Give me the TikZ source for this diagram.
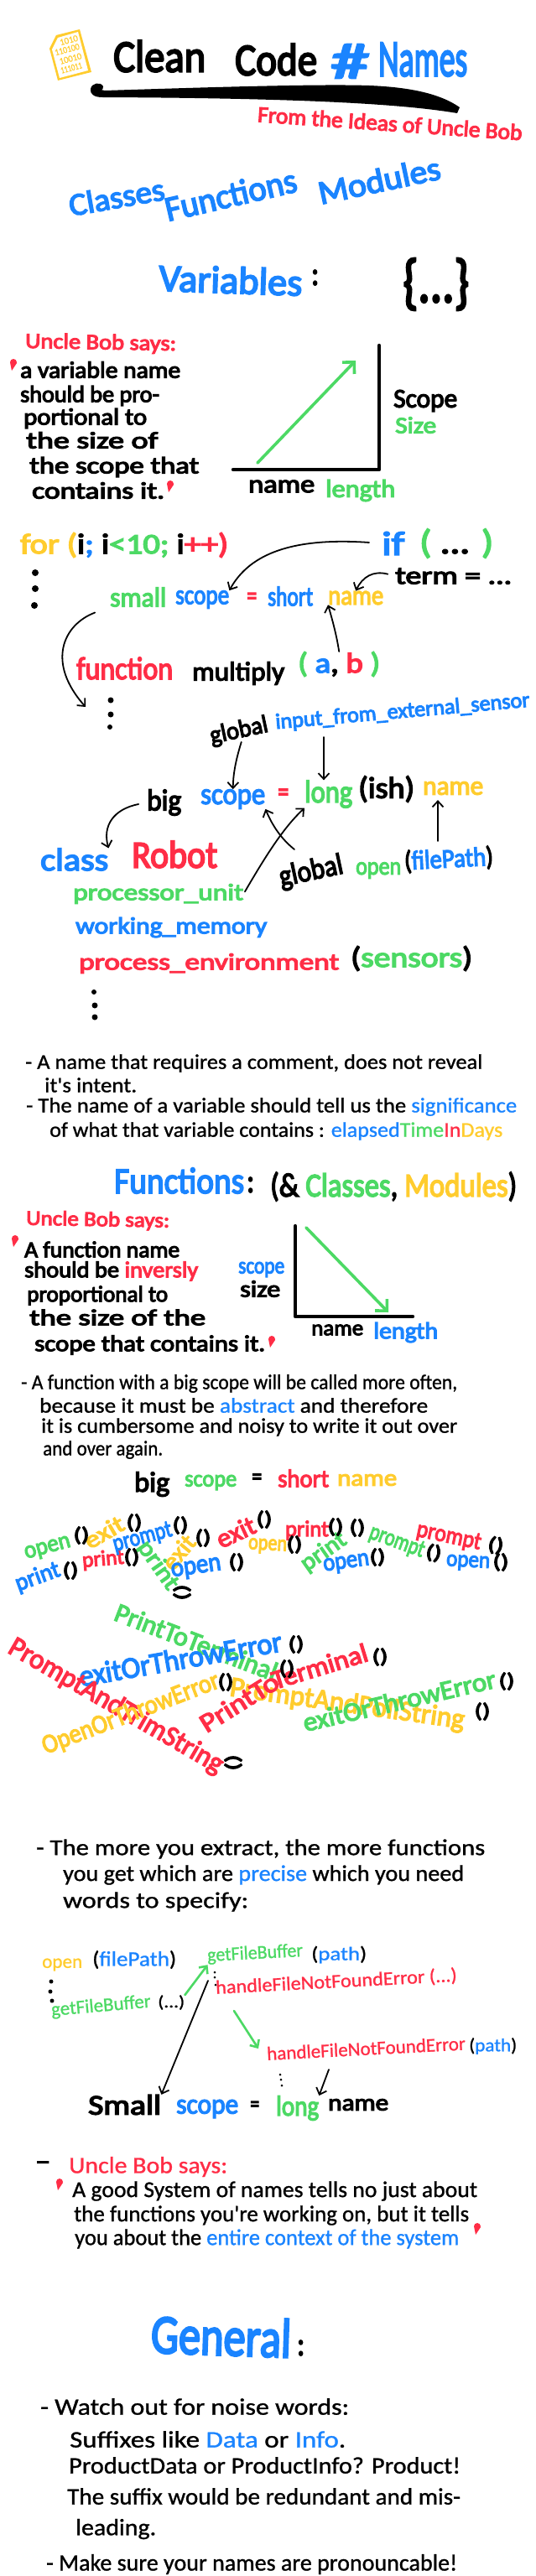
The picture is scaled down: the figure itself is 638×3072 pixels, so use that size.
\documentclass[tikz,border=0pt]{standalone}
\usepackage{graphicx}
\usepackage{fontspec}
\usetikzlibrary{arrows.meta, calc}
\newfontfamily\marker[FakeBold=4]{Carlito}
\newfontfamily\pen[FakeBold=1]{Carlito}
\definecolor{inkblue}{HTML}{1A84FF}
\definecolor{inkred}{HTML}{FF2D46}
\definecolor{inkgreen}{HTML}{4CD964}
\definecolor{inkyellow}{HTML}{FFCC2E}
\newcommand{\bl}[1]{\textcolor{inkblue}{#1}}
\newcommand{\rd}[1]{\textcolor{inkred}{#1}}
\newcommand{\gr}[1]{\textcolor{inkgreen}{#1}}
\newcommand{\yl}[1]{\textcolor{inkyellow}{#1}}
\newcommand{\wide}[2]{\resizebox{#1pt}{\height}{#2}}

\begin{document}
\begin{tikzpicture}[
  x=1pt, y=-1pt,
  hand/.style   = {inner sep=0pt, anchor=west, font=\marker\fontsize{#1}{#1}\selectfont},
  hand/.default = 28,
  thin/.style   = {inner sep=0pt, anchor=west, font=\pen\fontsize{#1}{#1}\selectfont},
  thin/.default = 25,
  word/.style   = {hand=#1, anchor=center},
  word/.default = 28,
  arr/.style    = {-{Straight Barb[length=7pt, width=13pt]}, line width=1.8pt, line cap=round},
  bigarr/.style = {-{Straight Barb[length=10pt, width=20pt]}, line width=3.6pt, line cap=round},
  axis/.style   = {line width=4.4pt, line cap=round, line join=round},
]
  \useasboundingbox (0,0) rectangle (638,3072);
  \fill[white] (0,0) rectangle (638,3072);

  % title
  \fill[inkyellow] (59,58) -- (67,42) -- (95,35) -- (109,86) -- (69,96) -- cycle;
  \fill[white] (62,59) -- (69,45) -- (93,38) -- (105,84) -- (71,93) -- cycle;
  \foreach \px/\py/\len/\word [count=\i] in {82/48/22/1010, 80/59/30/110100, 84/70/27/10010, 85/81/26/111011}
    \node[thin=11, anchor=center, rotate=15, text=inkyellow] (bits\i) at (\px,\py) {\wide{\len}{\word}};
  \node[hand=54] (clean) at (135,67) {\wide{110}{Clean}};
  \node[hand=54] (code)  at (280,71) {\wide{98}{Code}};
  \node[hand=60, text=inkblue] (hash)  at (394,73) {\wide{46}{\#}};
  \node[hand=62, text=inkblue] (names) at (451,71) {\wide{106}{Names}};
  \fill (125,108) .. controls (250,104) and (380,100) .. (440,102) .. controls (490,104) and (525,112) .. (548,128)
        -- (545,135) .. controls (480,124) and (360,117) .. (122,116) .. controls (112,116) and (107,112) .. (108,106)
        .. controls (109,99) and (120,97) .. (123,103) .. controls (124,108) and (117,110) .. (115,106) -- cycle;
  \node[word=27, rotate=-4, text=inkred] (ideas) at (465,147) {\wide{316}{From the Ideas of Uncle Bob}};

  \node[word=38, rotate=10, text=inkblue] (classes)   at (139,235) {\wide{115}{Classes}};
  \node[word=42, rotate=13, text=inkblue] (functions) at (275,232) {\wide{160}{Functions}};
  \node[word=40, rotate=12, text=inkblue] (modules)   at (452,215) {\wide{148}{Modules}};
  \node[word=46, rotate=-2, text=inkblue] (variables) at (275,334) {\wide{171}{Variables}};
  \node[hand=40] (varcolon) at (371,331) {\wide{9}{:}};
  \node[word=72] (block) at (520,339) {\wide{79}{\{...\}}};

  % variable rule
  \node[hand=26, rotate=-1, text=inkred] (says) at (30,408) {\wide{180}{Uncle Bob says:}};
  \node[hand] (v1) at (24,441) {\wide{191}{a variable name}};
  \node[hand] (v2) at (24,472) {\wide{166}{should be pro-}};
  \node[hand] (v3) at (28,499) {\wide{147}{portional to}};
  \node[hand] (v4) at (31,525) {\wide{157}{the size of}};
  \node[hand] (v5) at (35,557) {\wide{202}{the scope that}};
  \node[hand] (v6) at (38,585) {\wide{158}{contains it.}};
  \foreach \px/\py in {16/435, 203/580, 18/1480, 324/1600, 71/2605, 569/2658}
    \fill[inkred] (\px,\py-3) circle (4) (\px-4,\py-3) -- (\px+4,\py-2) -- (\px-2,\py+7) -- cycle;

  \coordinate (vorigin) at (452,560);
  \draw[axis] (452,412) -- (vorigin) -- (278,560);
  \coordinate (vrisefoot) at (307,552);
  \coordinate (vrisetop)  at (424,430);
  \draw[bigarr, inkgreen] (vrisefoot) -- (vrisetop);
  \node[hand=32] (vscope) at (469,478) {\wide{76}{Scope}};
  \node[hand=28, text=inkgreen] (vsize) at (471,507) {\wide{49}{Size}};
  \node[hand=30] (vname) at (296,580) {\wide{79}{name}};
  \node[hand=30, text=inkgreen] (vlength) at (388,585) {\wide{83}{length}};

  % small scope
  \node[hand=34] (forloop) at (24,650) {\wide{248}{\yl{for (}i\bl{;} i\gr{<10;} i\rd{++)}}};
  \node[hand=40, text=inkblue] (ifword) at (455,648) {\wide{27}{if}};
  \node[hand=40] (ifargs) at (500,648) {\wide{88}{\gr{(} ... \gr{)}}};
  \node[hand=30] (term) at (471,687) {\wide{139}{term = ...}};
  \node[hand=33, text=inkgreen]  (smallA) at (131,712) {\wide{67}{small}};
  \node[hand=33, text=inkblue]   (scopeA) at (209,715) {\wide{64}{scope}};
  \node[hand=33, text=inkred]    (eqA)    at (294,714) {\wide{12}{=}};
  \node[hand=33, text=inkblue]   (shortA) at (319,711) {\wide{54}{short}};
  \node[hand=33, text=inkyellow] (nameA)  at (391,713) {\wide{66}{name}};
  \node[hand=38, text=inkred] (func) at (91,797) {\wide{115}{function}};
  \node[hand=32] (mult) at (229,803) {\wide{110}{multiply}};
  \node[hand=34] (multargs) at (355,792) {\wide{98}{\gr{(} \bl{a}, \rd{b} \gr{)}}};

  \foreach \px/\py/\rad in {42/683/4, 42/702/4, 41/722/4, 132/835/3.5, 132/852/3.5, 131/867/3, 112/1183/3, 113/1199/3.5, 113/1213/3.5,
      61/2363/2.5, 60/2375/2.5, 62/2386/2.5, 256/2352/1.5, 256/2358/1.5, 257/2367/1.5, 334/2474/1.5, 335/2480/1.5, 336/2487/1.5}
    \fill (\px,\py) circle (\rad);

  \draw[arr, shorten <=15pt] (ifword.west) .. controls (340,640) and (295,665) .. (scopeA.north east);
  \draw[arr, shorten <=9pt] (term.west) .. controls (445,680) and (432,688) .. (nameA.north);
  \draw[arr] (multargs.north) .. controls (402,762) and (398,745) .. (nameA.south west);
  \coordinate (fdots) at (102,843);
  \draw[arr, shorten <=19pt] (smallA.south west) .. controls (75,745) and (55,790) .. (fdots);

  % big scope
  \node[word=30, rotate=12] (globA) at (285,872) {\wide{70}{global}};
  \node[word=26, rotate=5, text=inkblue] (inp) at (480,849) {\wide{304}{input\_from\_external\_sensor}};
  \node[hand=36] (bigB) at (175,957) {\wide{41}{big}};
  \node[hand=36, text=inkblue] (scopeB) at (239,953) {\wide{77}{scope}};
  \node[hand=34, text=inkred]  (eqB)    at (331,948) {\wide{13}{=}};
  \node[hand=38, text=inkgreen] (longB) at (363,947) {\wide{57}{long}};
  \node[hand=36] (ishB) at (427,941) {\wide{67}{(ish)}};
  \node[hand=32, text=inkyellow] (nameB) at (504,940) {\wide{72}{name}};
  \node[hand=38, text=inkblue] (classA) at (48,1025) {\wide{81}{class}};
  \node[hand=46, text=inkred]  (robot)  at (157,1019) {\wide{102}{Robot}};
  \node[hand=28, text=inkgreen] (proc)  at (87,1066)  {\wide{203}{processor\_unit}};
  \node[hand=28, text=inkblue]  (work)  at (90,1106)  {\wide{228}{working\_memory}};
  \node[hand=28, text=inkred]   (envir) at (94,1149)  {\wide{310}{process\_environment}};
  \node[hand=34] (envargs) at (418,1143) {\wide{145}{(\gr{sensors})}};
  \node[word=36, rotate=12] (globB) at (371,1040) {\wide{77}{global}};
  \node[hand=30, text=inkgreen] (openB) at (424,1038) {\wide{54}{open}};
  \node[word=32, rotate=3] (fileB) at (535,1025) {\wide{106}{(\bl{filePath})}};

  \coordinate (inpfoot) at (386,879);
  \coordinate (globtop) at (351,1013);
  \coordinate (filetop) at (522,1003);
  \draw[arr] (globA.south) .. controls (280,910) and (278,925) .. (scopeB.north);
  \draw[arr] (inpfoot) -- (inpfoot |- longB.north);
  \draw[arr, shorten <=10pt] (bigB.west) .. controls (135,965) and (122,985) .. (classA.north east);
  \draw[arr, shorten <=3pt] (proc.east) .. controls (320,1015) and (340,985) .. (longB.south west);
  \draw[arr] (globtop) .. controls (335,1000) and (325,985) .. (scopeB.south east);
  \draw[arr, shorten >=6pt] (filetop) -- (filetop |- nameB.south);

  % notes
  \node[thin] (n1)  at (30,1268) {\wide{545}{- A name that requires a comment, does not reveal}};
  \node[thin] (n1b) at (53,1294) {\wide{110}{it's intent.}};
  \node[thin] (n2)  at (31,1320) {\wide{585}{- The name of a variable should tell us the \bl{significance}}};
  \node[thin] (n2b) at (59,1349) {\wide{540}{of what that variable contains : \bl{elapsed}\gr{Time}\rd{In}\yl{Days}}};

  % functions
  \node[hand=44, text=inkblue] (fhead) at (136,1408) {\wide{155}{Functions}};
  \node[hand=40] (fcolon) at (294,1413) {\wide{9}{:}};
  \node[hand=40] (fparen) at (322,1415) {\wide{294}{(\& \gr{Classes}, \yl{Modules})}};
  \node[hand=25, rotate=-1, text=inkred] (saysB) at (31,1454) {\wide{171}{Uncle Bob says:}};
  \node[hand=27] (f1) at (29,1490) {\wide{185}{A function name}};
  \node[hand=27] (f2) at (29,1516) {\wide{207}{should be \rd{inversly}}};
  \node[hand=27] (f3) at (32,1545) {\wide{168}{proportional to}};
  \node[hand=27] (f4) at (35,1571) {\wide{210}{the size of the}};
  \node[hand=27] (f5) at (41,1604) {\wide{275}{scope that contains it.}};

  \coordinate (forigin) at (352,1570);
  \draw[axis] (352,1462) -- (forigin) -- (492,1570);
  \coordinate (ffalltop)  at (365,1464);
  \coordinate (ffallfoot) at (463,1565);
  \draw[bigarr, inkgreen] (ffalltop) -- (ffallfoot);
  \node[hand=28, text=inkblue] (fscope) at (284,1514) {\wide{55}{scope}};
  \node[hand=28] (fsize) at (286,1537) {\wide{48}{size}};
  \node[hand=26] (fname) at (371,1586) {\wide{62}{name}};
  \node[hand=28, text=inkblue] (flength) at (445,1589) {\wide{77}{length}};

  \node[thin] (g1) at (25,1650) {\wide{520}{- A function with a big scope will be called more often,}};
  \node[thin] (g2) at (47,1676) {\wide{463}{because it must be \bl{abstract} and therefore}};
  \node[thin] (g3) at (49,1702) {\wide{496}{it is cumbersome and noisy to write it out over}};
  \node[thin] (g4) at (51,1729) {\wide{143}{and over again.}};

  \node[hand=34] (bigC) at (160,1770) {\wide{42}{big}};
  \node[hand=28, text=inkgreen] (scopeC) at (220,1768) {\wide{62}{scope}};
  \node[hand=30] (eqC) at (300,1764) {\wide{12}{=}};
  \node[hand=30, text=inkred] (shortC) at (331,1763) {\wide{61}{short}};
  \node[hand=28, text=inkyellow] (nameC) at (402,1765) {\wide{71}{name}};

  % scattered calls
  \foreach \px/\py/\ang/\len/\fs/\word/\ink [count=\i] in {
      57/1847/15/56/29/open/inkgreen, 124/1827/30/50/29/exit/inkyellow, 45/1881/20/55/29/print/inkblue,
      123/1860/5/50/26/print/inkred, 170/1834/15/72/29/prompt/inkblue, 188/1867/-55/65/29/print/inkgreen,
      213/1851/50/45/29/exit/inkyellow, 234/1871/8/60/32/open/inkblue, 281/1827/25/48/32/exit/inkred,
      319/1844/-3/46/27/open/inkyellow, 366/1825/0/52/27/print/inkred, 386/1851/35/60/29/print/inkgreen,
      413/1865/8/55/30/open/inkblue, 473/1839/-20/68/29/prompt/inkgreen, 535/1833/-12/78/29/prompt/inkred,
      558/1864/-3/52/28/open/inkblue,
      234/1958/-21/205/32/PrintToTerminal/inkgreen, 215/1978/10/245/36/exitOrThrowError/inkblue,
      138/2035/-30/290/34/PromptAndTrimString/inkred, 156/2044/21/224/32/OpenOrThrowError/inkyellow,
      414/2033/-8/282/34/PromptAndPollString/inkyellow, 285/2030/32/105/32/PrintTo/inkred,
      381/1987/17/118/32/Terminal/inkred, 476/2028/13/235/32/exitOrThrowError/inkgreen}
    \node[word=\fs, rotate=\ang, text=\ink] (call\i) at (\px,\py) {\wide{\len}{\word}};
  \foreach \px/\py/\ang [count=\i] in {
      97/1831/0, 160/1816/0, 84/1873/0, 157/1857/0, 215/1819/0, 217/1899/-90, 242/1834/0, 282/1863/0,
      315/1812/0, 351/1842/0, 400/1821/0, 426/1822/0, 450/1857/0, 517/1852/-10, 591/1843/-10, 597/1863/0,
      342/1990/0, 353/1961/0, 269/2006/0, 278/2102/-90, 453/1976/0, 604/2005/0, 575/2041/0}
    \node[word=24, rotate=\ang] (paren\i) at (\px,\py) {\wide{19}{()}};

  % extract
  \node[thin=27] (e1) at (43,2205) {\wide{535}{- The more you extract, the more functions}};
  \node[thin=27] (e2) at (75,2236) {\wide{478}{you get which are \bl{precise} which you need}};
  \node[thin=27] (e3) at (75,2268) {\wide{221}{words to specify:}};

  \node[thin=23, text=inkyellow] (openD) at (50,2343) {\wide{48}{open}};
  \node[thin=25] (fileD) at (110,2337) {\wide{100}{(\bl{filePath})}};
  \node[thin=23, rotate=5, text=inkgreen] (getA) at (61,2398) {\wide{119}{getFileBuffer}};
  \node[thin=20] (getAargs) at (188,2388) {\wide{32}{(...)}};
  \node[thin=23, rotate=3, text=inkgreen] (getB) at (247,2333) {\wide{114}{getFileBuffer}};
  \node[thin=23] (getBargs) at (371,2331) {\wide{66}{(\bl{path})}};
  \node[thin=23, rotate=3, text=inkred] (handleA) at (257,2371) {\wide{288}{handleFileNotFoundError (...)}};
  \node[thin=23, rotate=3, text=inkred] (handleB) at (318,2449) {\wide{237}{handleFileNotFoundError}};
  \node[thin=22] (handleBargs) at (559,2440) {\wide{57}{(\bl{path})}};

  \node[hand=34] (smallE) at (105,2510) {\wide{87}{Small}};
  \node[hand=34, text=inkblue] (scopeE) at (210,2515) {\wide{74}{scope}};
  \node[hand=28] (eqE) at (298,2512) {\wide{11}{=}};
  \node[hand=34, text=inkgreen] (longE) at (329,2514) {\wide{51}{long}};
  \node[hand=28] (nameE) at (391,2510) {\wide{72}{name}};

  \coordinate (getfoot)  at (248,2362);
  \coordinate (handlefoot) at (279,2398);
  \coordinate (handleend)  at (308,2443);
  \coordinate (handlelow)  at (392,2468);
  \draw[arr, inkgreen, line width=2.6pt] (getAargs.north east) -- (getB.south west);
  \draw[arr] (getfoot) -- (smallE.north east);
  \draw[arr, inkgreen, line width=2.6pt] (handlefoot) -- (handleend);
  \draw[arr] (handlelow) -- (longE.north east);

  \node[hand=28] (dashF) at (43,2582) {\wide{16}{-}};
  \node[thin=28, text=inkred] (saysF) at (82,2584) {\wide{189}{Uncle Bob says:}};
  \node[thin=27] (s1) at (86,2613) {\wide{483}{A good System of names tells no just about}};
  \node[thin=27] (s2) at (88,2642) {\wide{471}{the functions you're working on, but it tells}};
  \node[thin=27] (s3) at (89,2670) {\wide{458}{you about the \bl{entire context of the system}}};

  % general
  \node[hand=66, rotate=-2, text=inkblue] (general) at (180,2783) {\wide{167}{General}};
  \node[hand=40] (gcolon) at (354,2800) {\wide{9}{:}};
  \node[thin=28] (w1) at (48,2870) {\wide{368}{- Watch out for noise words:}};
  \node[thin=28] (w2) at (83,2909) {\wide{329}{Suffixes like \bl{Data} or \bl{Info}.}};
  \node[thin=28] (w3) at (82,2940) {\wide{467}{ProductData or ProductInfo? Product!}};
  \node[thin=28] (w4) at (80,2977) {\wide{469}{The suffix would be redundant and mis-}};
  \node[thin=28] (w5) at (90,3016) {\wide{96}{leading.}};
  \node[thin=28] (w6) at (55,3058) {\wide{490}{- Make sure your names are pronouncable!}};
\end{tikzpicture}
\end{document}
